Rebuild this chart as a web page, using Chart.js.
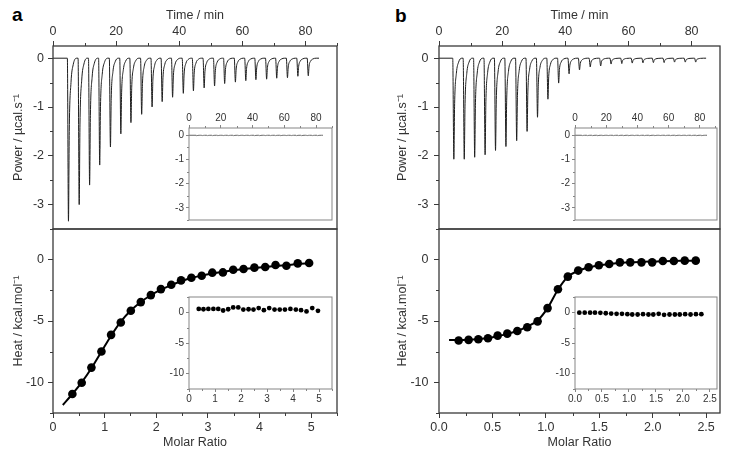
<!DOCTYPE html>
<html><head><meta charset="utf-8">
<script src="https://cdn.jsdelivr.net/npm/chart.js@4.4.0/dist/chart.umd.min.js"></script>
<style>
body{margin:0;background:#fff;width:729px;height:460px;position:relative;overflow:hidden;font-family:"Liberation Sans",Arial,sans-serif}
canvas{position:absolute}
.lbl{position:absolute;font-weight:bold;font-size:19px;line-height:18px;color:#000}
</style></head><body>
<div class="lbl" style="left:12px;top:6px">a</div>
<div class="lbl" style="left:395px;top:7px">b</div>
<canvas id="aTop"></canvas><canvas id="aBot"></canvas><canvas id="aInTop"></canvas><canvas id="aInBot"></canvas>
<canvas id="bTop"></canvas><canvas id="bBot"></canvas><canvas id="bInTop"></canvas><canvas id="bInBot"></canvas>
<script>
// ---------- DATA ----------
// Panel a: raw power trace (time of each peak minimum, peak depth)
const injTimeA = [4.9,8.3,11.6,14.8,18.2,21.5,24.7,28.1,31.4,34.6,37.9,41.3,44.5,47.9,51.2,54.4,57.8,61.1,64.3,67.7,70.9,74.3,77.6,80.9];
const peakPowerA = [-3.34,-3.0,-2.60,-2.19,-1.82,-1.55,-1.32,-1.15,-1.00,-0.89,-0.80,-0.72,-0.67,-0.61,-0.57,-0.52,-0.49,-0.46,-0.44,-0.43,-0.41,-0.40,-0.37,-0.36];
const blankPowerA = [-0.03,-0.03,-0.03,-0.03,-0.03,-0.03,-0.03,-0.03,-0.03,-0.03,-0.03,-0.03,-0.03,-0.03,-0.03,-0.03,-0.03,-0.03,-0.03,-0.03,-0.03,-0.03,-0.03,-0.03];
const traceEndA = 84.3;
// Panel b: raw power trace
const injTimeB = [4.7,8.0,11.3,14.6,17.9,21.2,24.6,27.9,31.2,34.5,37.9,41.2,44.5,47.9,51.2,54.5,57.9,61.2,64.6,67.9,71.3,74.6,78.0,81.3];
const peakPowerB = [-2.07,-2.07,-2.03,-1.98,-1.89,-1.81,-1.69,-1.50,-1.21,-0.84,-0.51,-0.32,-0.24,-0.18,-0.16,-0.12,-0.11,-0.10,-0.095,-0.09,-0.09,-0.08,-0.08,-0.08];
const blankPowerB = [-0.03,-0.03,-0.03,-0.03,-0.03,-0.03,-0.03,-0.03,-0.03,-0.03,-0.03,-0.03,-0.03,-0.03,-0.03,-0.03,-0.03,-0.03,-0.03,-0.03,-0.03,-0.03,-0.03,-0.03];
const traceEndB = 84.6;
// Peak profile (time offset from minimum, fraction of depth)
const peakDt = [-0.35, 0, 0.25, 0.8, 1.5, 2.5];
const peakFrac = [0, 1, 0.45, 0.15, 0.04, 0];

// Panel a: integrated heats
const ratioA = [0.375,0.556,0.744,0.938,1.125,1.313,1.507,1.70,1.895,2.09,2.29,2.48,2.68,2.88,3.085,3.29,3.49,3.69,3.90,4.11,4.31,4.52,4.74,4.96];
const heatA = [-10.95,-10.03,-8.8,-7.49,-6.13,-5.12,-4.17,-3.46,-2.89,-2.40,-2.04,-1.69,-1.47,-1.31,-1.06,-1.04,-0.82,-0.76,-0.65,-0.60,-0.44,-0.49,-0.30,-0.27];
const fitRatioA = [0.19,0.375,0.556,0.744,0.938,1.125,1.313,1.507,1.70,1.895,2.09,2.29,2.48,2.68,2.88,3.085,3.29,3.49,3.69,3.90,4.11,4.31,4.52,4.74,4.96];
const fitHeatA = [-11.85,-10.95,-10.0,-8.85,-7.5,-6.2,-5.05,-4.15,-3.45,-2.9,-2.45,-2.07,-1.76,-1.5,-1.3,-1.13,-0.99,-0.87,-0.77,-0.68,-0.6,-0.51,-0.44,-0.36,-0.3];
const blankHeatA = [0.55,0.5,0.55,0.55,0.55,0.3,0.5,0.8,0.8,0.45,0.5,0.45,0.7,0.35,0.7,0.45,0.45,0.45,0.55,0.45,0.35,0.15,0.7,0.25];
// Panel b: integrated heats
const ratioB = [0.184,0.277,0.368,0.458,0.549,0.639,0.733,0.826,0.923,1.016,1.113,1.206,1.303,1.40,1.496,1.593,1.693,1.79,1.895,1.995,2.095,2.198,2.30,2.403];
const heatB = [-6.59,-6.54,-6.49,-6.41,-6.19,-6.03,-5.81,-5.51,-5.03,-3.95,-2.41,-1.38,-0.89,-0.62,-0.46,-0.35,-0.22,-0.22,-0.22,-0.22,-0.11,-0.11,-0.08,-0.08];
const fitRatioB = [0.094,0.184,0.277,0.368,0.458,0.549,0.639,0.733,0.826,0.923,1.016,1.113,1.206,1.303,1.40,1.496,1.593,1.693,1.79,1.895,1.995,2.095,2.198,2.30,2.403];
const fitHeatB = [-6.55,-6.55,-6.52,-6.46,-6.38,-6.24,-6.05,-5.8,-5.45,-4.95,-3.95,-2.45,-1.4,-0.9,-0.63,-0.47,-0.36,-0.28,-0.22,-0.18,-0.15,-0.12,-0.1,-0.09,-0.08];
const blankRatioB = [0.08,0.18,0.28,0.37,0.47,0.57,0.67,0.77,0.87,0.97,1.06,1.16,1.26,1.36,1.45,1.55,1.65,1.75,1.85,1.94,2.04,2.14,2.24,2.34];
const blankHeatB = [-0.05,-0.05,-0.05,-0.05,-0.08,-0.15,-0.2,-0.25,-0.25,-0.3,-0.35,-0.35,-0.3,-0.35,-0.35,-0.25,-0.4,-0.35,-0.35,-0.35,-0.3,-0.35,-0.3,-0.3];

// Tick labels
const timeTicks = [0,20,40,60,80];
const powerTicks = [0,-1,-2,-3];
const ratioTicksA = [0,1,2,3,4,5];
const ratioTicksB = [0,0.5,1,1.5,2,2.5];
const heatTicks = [0,-5,-10];

// ---------- RENDERING ----------
const FONT = '"Liberation Sans", Arial, sans-serif';
const MAIN = '#3a3a3a', INSET = '#858585', TXT = '#333';

function buildTrace(times, depths, tEnd){
  const pts = [{x:0,y:0}];
  times.forEach((t,i)=>{ peakDt.forEach((dt,j)=>pts.push({x:t+dt,y:depths[i]*peakFrac[j]})); });
  pts.push({x:tEnd,y:0});
  return pts;
}
const xy = (xs, ys) => xs.map((x,i)=>({x, y:ys[i]}));

const framePlugin = {
  id:'frame',
  afterDraw(chart, args, o){
    const {ctx, chartArea:a} = chart;
    ctx.save();
    ctx.strokeStyle = o.color; ctx.lineWidth = o.width;
    ctx.strokeRect(a.left, a.top, a.right-a.left, a.bottom-a.top);
    ctx.lineWidth = 1;
    const xs = chart.scales.x, ys = chart.scales.y;
    ctx.beginPath();
    (o.minorX||[]).forEach(v=>{
      const p = Math.round(xs.getPixelForValue(v))+0.5;
      const top = xs.options.position==='top';
      const y0 = top ? a.top : a.bottom;
      ctx.moveTo(p,y0); ctx.lineTo(p, y0 + (top?-1:1)*o.minorLen);
    });
    (o.minorY||[]).forEach(v=>{
      const p = Math.round(ys.getPixelForValue(v))+0.5;
      ctx.moveTo(a.left,p); ctx.lineTo(a.left-o.minorLen,p);
    });
    ctx.stroke();
    ctx.restore();
  }
};

function axis(o){
  return {
    type:'linear', position:o.pos, min:o.min, max:o.max,
    grid:{display:true, drawOnChartArea:false, drawTicks:true, tickLength:o.tl, tickColor:o.color, tickWidth:1, color:o.color},
    border:{display:false},
    ticks:{color:TXT, font:{family:FONT, size:o.fs}, padding:o.pad, autoSkip:false, maxRotation:0, minRotation:0,
      callback:(v)=> o.dec ? Number(v).toFixed(o.dec) : String(v)},
    afterBuildTicks:(s)=>{ s.ticks = o.ticks.map(v=>({value:v})); },
    afterFit:(s)=>{ if (s.isHorizontal()) s.height = o.size; else s.width = o.size;
      s.paddingLeft = s.paddingRight = s.paddingTop = s.paddingBottom = 0; },
    title: o.title ? {display:true, text:o.title, color:TXT, font:{family:FONT, size:12.5}, padding:{top:o.tpad, bottom:o.tpad}} : {display:false}
  };
}

function make(id, box, x, y, datasets, pad, frame){
  const c = document.getElementById(id);
  c.width = box.w; c.height = box.h;
  c.style.left = box.x+'px'; c.style.top = box.y+'px';
  c.style.width = box.w+'px'; c.style.height = box.h+'px';
  return new Chart(c, {
    type:'scatter',
    data:{datasets},
    options:{
      responsive:false, animation:false, devicePixelRatio:1,
      layout:{padding:pad, autoPadding:false},
      plugins:{legend:{display:false}, tooltip:{enabled:false}, frame},
      scales:{x, y},
      elements:{point:{borderWidth:0}}
    },
    plugins:[framePlugin]
  });
}

const traceDs = (pts, color) => ({data:pts, showLine:true, borderColor:color, borderWidth:1, pointRadius:0, cubicInterpolationMode:'monotone', fill:false});
const pointDs = (pts, r) => ({data:pts, showLine:false, pointRadius:r, pointBackgroundColor:'#000', order:0});
const fitDs = (pts) => ({data:pts, showLine:true, borderColor:'#000', borderWidth:2, pointRadius:0, cubicInterpolationMode:'monotone', order:1});

const mainFrame = (mx, my) => ({color:MAIN, width:1.3, minorLen:3, minorX:mx, minorY:my});
const insetFrame = (mx, my) => ({color:INSET, width:1, minorLen:2, minorX:mx, minorY:my});

function panel(p){
  make(p.id+'Top', {x:p.cx, y:0, w:p.cw, h:233},
    axis({pos:'top', min:0, max:p.tMax, ticks:timeTicks, tl:5, color:MAIN, fs:12.5, pad:1.5, size:46, title:'Time / min', tpad:8}),
    axis({pos:'left', min:-3.5, max:0.25, ticks:powerTicks, tl:5, color:MAIN, fs:12.5, pad:p.ypad, size:p.yw, title:'Power / µcal.s⁻¹', tpad:p.ytpad}),
    [traceDs(buildTrace(p.inj, p.peaks, p.tEnd), '#1e1e1e')],
    {left:0, top:0, right:p.cw-p.yw-p.aw, bottom:4},
    mainFrame([10,30,50,70,90].filter(v=>v<=p.tMax), [-0.5,-1.5,-2.5,-3.5]));
  make(p.id+'Bot', {x:p.cx, y:225, w:p.cw, h:235},
    axis({pos:'bottom', min:0, max:p.rMax, ticks:p.rTicks, tl:5, color:MAIN, fs:12.5, pad:2.5, size:47, title:'Molar Ratio', tpad:9.5, dec:p.dec}),
    axis({pos:'left', min:-12.5, max:2.5, ticks:heatTicks, tl:5, color:MAIN, fs:12.5, pad:p.ypad, size:p.yw, title:'Heat / kcal.mol⁻¹', tpad:p.ytpad}),
    [pointDs(xy(p.ratio, p.heat), 4.3), fitDs(xy(p.fitR, p.fitH))],
    {left:0, top:4, right:p.cw-p.yw-p.aw, bottom:0},
    mainFrame(p.rMinor, [2.5,-2.5,-7.5,-12.5]));
  make(p.id+'InTop', {x:p.ix, y:106, w:p.iw, h:118},
    axis({pos:'top', min:0, max:p.itMax, ticks:timeTicks, tl:3, color:INSET, fs:10, pad:1, size:22}),
    axis({pos:'left', min:-3.5, max:0.3, ticks:powerTicks, tl:3, color:INSET, fs:10, pad:2, size:p.iyw}),
    [traceDs(buildTrace(p.inj, p.blankP, p.tEnd), '#666')],
    {left:0, top:0, right:p.iw-p.iyw-p.iaw, bottom:4},
    insetFrame([10,30,50,70,90].filter(v=>v<=p.itMax), [-0.5,-1.5,-2.5,-3.5]));
  make(p.id+'InBot', {x:p.ix, y:293, w:p.iw, h:116},
    axis({pos:'bottom', min:0, max:p.rMax, ticks:p.rTicks, tl:3, color:INSET, fs:10, pad:1, size:20, dec:p.dec}),
    axis({pos:'left', min:-12.5, max:2.5, ticks:heatTicks, tl:3, color:INSET, fs:10, pad:2, size:p.iyw}),
    [pointDs(xy(p.bR, p.bH), 2.4)],
    {left:0, top:4, right:p.iw-p.iyw-p.iaw, bottom:0},
    insetFrame(p.rMinor, [2.5,-2.5,-7.5,-12.5]));
}

panel({id:'a', cx:0, cw:345, yw:53, aw:284, ypad:4, ytpad:11, tMax:90, itMax:90,
  inj:injTimeA, peaks:peakPowerA, blankP:blankPowerA, tEnd:traceEndA,
  rMax:5.5, rTicks:ratioTicksA, rMinor:[0.5,1.5,2.5,3.5,4.5,5.5], dec:0,
  ratio:ratioA, heat:heatA, fitR:fitRatioA, fitH:fitHeatA, bR:ratioA, bH:blankHeatA,
  ix:165, iw:172, iyw:24, iaw:143});
panel({id:'b', cx:385, cw:344, yw:54, aw:281, ypad:5.5, ytpad:10.5, tMax:89, itMax:91,
  inj:injTimeB, peaks:peakPowerB, blankP:blankPowerB, tEnd:traceEndB,
  rMax:2.63, rTicks:ratioTicksB, rMinor:[0.25,0.75,1.25,1.75,2.25], dec:1,
  ratio:ratioB, heat:heatB, fitR:fitRatioB, fitH:fitHeatB, bR:blankRatioB, bH:blankHeatB,
  ix:550, iw:179, iyw:25, iaw:142});
</script>
</body></html>
